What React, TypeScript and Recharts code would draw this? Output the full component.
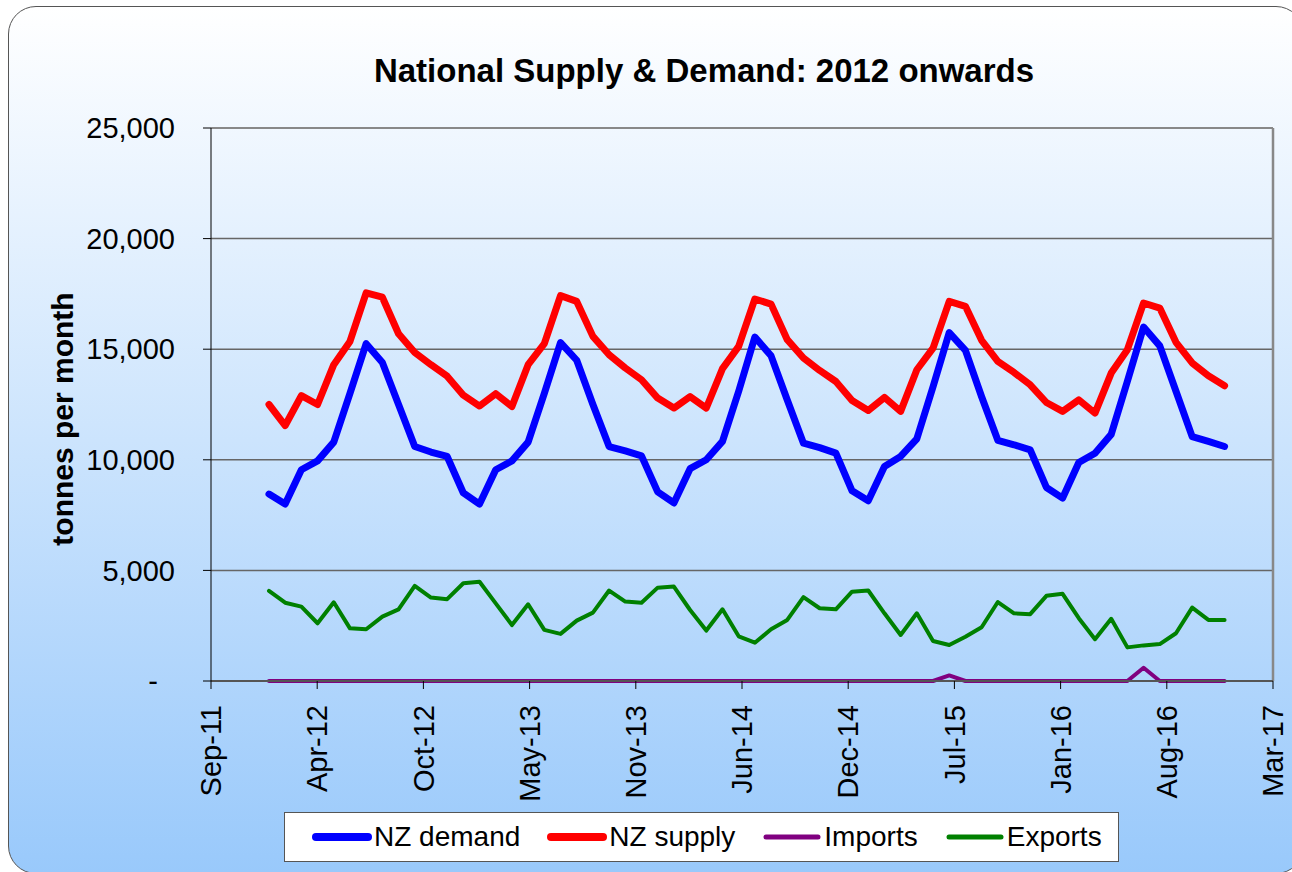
import React from "react";
import { LineChart, Line, XAxis, YAxis, CartesianGrid, ReferenceLine } from "recharts";

// monthly values, Jan-12 .. Dec-16 (tonnes per month)
const demand = [
  8450, 8000, 9550, 9950, 10800, 13000, 15250, 14400, 12500, 10600, 10350, 10150,
  8500, 8000, 9550, 9950, 10800, 13000, 15300, 14500, 12500, 10600, 10400, 10180,
  8550, 8050, 9600, 10000, 10830, 13100, 15550, 14700, 12700, 10750, 10550, 10300,
  8600, 8150, 9700, 10150, 10950, 13300, 15750, 14950, 12850, 10880, 10680, 10450,
  8750, 8270, 9880, 10300, 11150, 13550, 16000, 15150, 13100, 11050, 10830, 10600,
];

const supply = [
  12500, 11550, 12900, 12500, 14300, 15350, 17550, 17350, 15700, 14850, 14300, 13780,
  12920, 12430, 12990, 12410, 14300, 15250, 17420, 17160, 15580, 14750, 14150, 13620,
  12790, 12340, 12860, 12340, 14120, 15130, 17270, 17040, 15430, 14600, 14040, 13540,
  12680, 12230, 12820, 12190, 14070, 15050, 17160, 16940, 15400, 14450, 13950, 13390,
  12590, 12190, 12710, 12110, 13920, 14980, 17090, 16860, 15310, 14380, 13800, 13350,
];

const imports = [
  0, 0, 0, 0, 0, 0, 0, 0, 0, 0, 0, 0,
  0, 0, 0, 0, 0, 0, 0, 0, 0, 0, 0, 0,
  0, 0, 0, 0, 0, 0, 0, 0, 0, 0, 0, 0,
  0, 0, 0, 0, 0, 0, 250, 0, 0, 0, 0, 0,
  0, 0, 0, 0, 0, 0, 600, 0, 0, 0, 0, 0,
];

const exports = [
  4070, 3540, 3360, 2610, 3560, 2380, 2340, 2910, 3240, 4300, 3770, 3700,
  4420, 4490, 3510, 2530, 3470, 2310, 2130, 2730, 3090, 4090, 3590, 3540,
  4220, 4270, 3210, 2280, 3240, 2020, 1730, 2340, 2760, 3790, 3290, 3240,
  4040, 4090, 3060, 2080, 3060, 1810, 1630, 2000, 2430, 3570, 3060, 3020,
  3850, 3940, 2840, 1890, 2810, 1520, 1610, 1670, 2160, 3320, 2760, 2760,
];

const xTickLabels = [
  "Sep-11", "Apr-12", "Oct-12", "May-13", "Nov-13", "Jun-14",
  "Dec-14", "Jul-15", "Jan-16", "Aug-16", "Mar-17",
];

const yTicks = [0, 5000, 10000, 15000, 20000, 25000];

const series = [
  { key: "demand", name: "NZ demand", color: "#0000ff", width: 7 },
  { key: "supply", name: "NZ supply", color: "#ff0000", width: 7 },
  { key: "imports", name: "Imports", color: "#800080", width: 4 },
  { key: "exports", name: "Exports", color: "#008000", width: 4 },
];

// x axis runs in months from Jan-12 (= 0)
const xMin = -3.58;
const xMax = 61.99;
const xTicks = xTickLabels.map((_, i) => xMin + (i * (xMax - xMin)) / (xTickLabels.length - 1));

const rows = demand.map((d, i) => ({
  m: i,
  demand: d,
  supply: supply[i],
  imports: imports[i],
  exports: exports[i],
}));

const FONT = '"Liberation Sans", Arial, Helvetica, sans-serif';

function XTick({ x, y, index }: any) {
  return (
    <g transform={`translate(${x},${y})`}>
      <text transform="rotate(-90)" textAnchor="end" dy="0.35em" fontSize={29} fontFamily={FONT} fill="#000">
        {xTickLabels[index]}
      </text>
    </g>
  );
}

function YTick({ x, y, payload }: any) {
  const zero = payload.value === 0;
  return (
    <text x={zero ? x - 17 : x} y={y} dy="0.35em" textAnchor="end" fontSize={29} fontFamily={FONT} fill="#000">
      {zero ? "-" : payload.value.toLocaleString("en-US")}
    </text>
  );
}

export default function App() {
  return (
    <div style={{ position: "relative", width: 1292, height: 872, overflow: "hidden" }}>
      <style>{"body{margin:0}"}</style>
      <div
        style={{
          position: "absolute",
          left: 8,
          top: 6,
          width: 1296,
          height: 868,
          boxSizing: "border-box",
          border: "1.5px solid #555",
          borderRadius: 28,
          background: "linear-gradient(to bottom, #ffffff 0px, #99c9fb 866px)",
        }}
      />
      <div style={{ position: "absolute", left: 0, top: 0 }}>
        <LineChart width={1292} height={872} data={rows} margin={{ top: 128, right: 19, bottom: 0, left: 0 }}>
          <CartesianGrid vertical={false} stroke="#666" strokeWidth={1.5} />
          <XAxis
            dataKey="m"
            type="number"
            domain={[xMin, xMax]}
            ticks={xTicks}
            interval={0}
            height={191}
            tick={<XTick />}
            tickSize={8}
            tickMargin={16}
            axisLine={{ stroke: "#555", strokeWidth: 2 }}
            tickLine={{ stroke: "#000", strokeWidth: 1 }}
          />
          <YAxis
            type="number"
            domain={[0, 25000]}
            ticks={yTicks}
            interval={0}
            width={211}
            tick={<YTick />}
            tickSize={8}
            tickMargin={28}
            axisLine={{ stroke: "#000", strokeWidth: 1 }}
            tickLine={{ stroke: "#000", strokeWidth: 1 }}
          />
          <ReferenceLine y={25000} stroke="#888" strokeWidth={2} />
          <ReferenceLine x={xMax} stroke="#888" strokeWidth={2.5} />
          {series.map((s) => (
            <Line
              key={s.key}
              dataKey={s.key}
              name={s.name}
              type="linear"
              stroke={s.color}
              strokeWidth={s.width}
              strokeLinejoin="round"
              strokeLinecap="round"
              dot={false}
              activeDot={false}
              isAnimationActive={false}
            />
          ))}
        </LineChart>
      </div>
      <svg width={1292} height={872} style={{ position: "absolute", left: 0, top: 0, pointerEvents: "none" }}>
        <text x={704} y={82} textAnchor="middle" fontSize={33} fontWeight="bold" fontFamily={FONT} fill="#000">
          National Supply &amp; Demand: 2012 onwards
        </text>
        <text
          transform="translate(73,419) rotate(-90)"
          textAnchor="middle"
          fontSize={30}
          fontWeight="bold"
          fontFamily={FONT}
          fill="#000"
        >
          tonnes per month
        </text>
      </svg>
      <div
        style={{
          position: "absolute",
          left: 284,
          top: 812,
          width: 835,
          height: 50,
          boxSizing: "border-box",
          border: "1.5px solid #555",
          background: "#fff",
          display: "flex",
          alignItems: "center",
          paddingLeft: 27,
          fontFamily: FONT,
          fontSize: 28,
          color: "#000",
        }}
      >
        {series.map((s) => (
          <div key={s.key} style={{ display: "flex", alignItems: "center", marginRight: 27 }}>
            <svg width={60} height={12}>
              <line x1={4} y1={6} x2={56} y2={6} stroke={s.color} strokeWidth={s.width + 1} strokeLinecap="round" />
            </svg>
            <span style={{ marginLeft: 2, whiteSpace: "nowrap" }}>{s.name}</span>
          </div>
        ))}
      </div>
    </div>
  );
}
